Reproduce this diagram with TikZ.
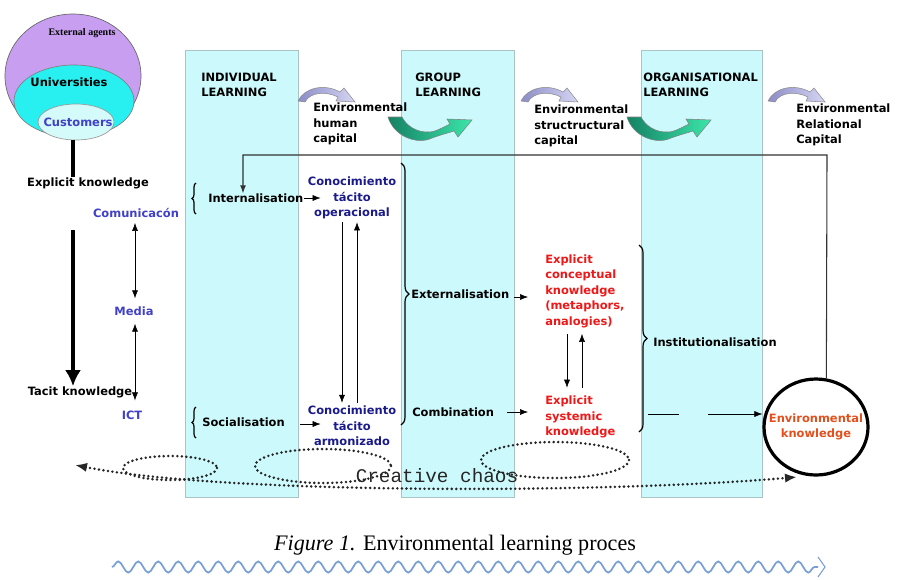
\documentclass[tikz,border=0pt]{standalone}
\usepackage{fontspec}
\setmainfont{DejaVu Sans}
\newfontfamily\serifcap{Liberation Serif}
\newfontfamily\monochaos{Liberation Mono}
\usetikzlibrary{calc,arrows.meta,shapes.geometric,decorations.pathreplacing,decorations.pathmorphing}

\definecolor{colcyan}{RGB}{204,250,252}
\definecolor{coledge}{RGB}{170,196,198}
\definecolor{agentviolet}{RGB}{200,158,240}
\definecolor{unicyan}{RGB}{40,240,240}
\definecolor{custcyan}{RGB}{212,250,250}
\definecolor{medblue}{RGB}{64,64,200}
\definecolor{navyblue}{RGB}{26,26,140}
\definecolor{kred}{RGB}{238,24,24}
\definecolor{envorange}{RGB}{226,80,30}
\definecolor{lavlight}{RGB}{214,214,244}
\definecolor{lavdark}{RGB}{140,140,200}
\definecolor{greendark}{RGB}{20,130,100}
\definecolor{greenlight}{RGB}{60,230,170}
\definecolor{wavyblue}{RGB}{120,160,215}

\tikzset{
  column/.style={fill=colcyan, draw=coledge, line width=0.5pt},
  lbl/.style={font=\bfseries\fontsize{8.6}{11.6}\selectfont, inner sep=0pt, align=left},
  brc/.style={decorate, decoration={brace, amplitude=#1}, line width=0.9pt},
  lavarrow/.style={left color=lavdark, right color=lavlight, draw=black!45, line width=0.4pt},
  greenarrow/.style={left color=greendark, right color=greenlight, draw=black!50, line width=0.4pt},
  chaos/.style={line width=2.1pt, dash pattern=on 0pt off 3.4pt, line cap=round, draw=black!85},
  wavyline/.style={draw=wavyblue, line width=1.3pt, decorate, decoration={snake, segment length=15pt, amplitude=4.2pt}}
}

\begin{document}
\begin{tikzpicture}[x=0.75pt,y=-0.75pt,>={Latex[length=6pt,width=4.5pt]}]
  \useasboundingbox (0,0) rectangle (898,579);
  % learning columns
  \draw[column] (185,50) rectangle (298,497);
  \draw[column] (401,50) rectangle (514,497);
  \draw[column] (641,50) rectangle (762,497);

  % external agents
  \draw[fill=agentviolet, draw=black!60, line width=0.5pt] (73,76) ellipse [x radius=68, y radius=62];
  \draw[fill=unicyan, draw=black!50, line width=0.5pt] (74,101) ellipse [x radius=60, y radius=36];
  \draw[fill=custcyan, draw=black!40, line width=0.5pt] (76,122) ellipse [x radius=38, y radius=18];
  \node[inner sep=0pt, font=\serifcap\bfseries\fontsize{7.5}{9}\selectfont] (agents) at (82,33) {External agents};
  \node[lbl] (univ) at (69,82) {Universities};
  \node[lbl, text=medblue] (cust) at (78,122) {Customers};
  \coordinate (custbot) at (73,140);

  \node[lbl] (expk) at (88,183) {Explicit knowledge};
  \node[lbl] (tack) at (80,392) {Tacit knowledge};
  \coordinate (kstart) at (73,230);
  \draw[line width=3pt] (custbot) -- (custbot |- expk.north);
  \draw[line width=3pt, -{Latex[length=12pt,width=12pt]}] (kstart) -- (kstart |- tack.north);

  \node[lbl, text=medblue] (comm) at (136,213) {Comunicacón};
  \node[lbl, text=medblue] (media) at (134,311) {Media};
  \node[lbl, text=medblue] (ict) at (132,415) {ICT};
  \draw[<->] ($(comm.south)+(-1,5)$) -- ($(media.north)+(1,-8)$);
  \draw[<->] ($(media.south)+(1,8)$) -- ($(ict.north)+(3,-10)$);

  % headings
  \node[lbl, anchor=west] (indl) at (201,85) {INDIVIDUAL\\LEARNING};
  \node[lbl, anchor=west] (grpl) at (415,85) {GROUP\\LEARNING};
  \node[lbl, anchor=west] (orgl) at (643,85) {ORGANISATIONAL\\LEARNING};

  % capital arrows
  \foreach \x in {298,521,768}
    \draw[lavarrow, shift={(\x,86)}] (0,15) .. controls (6,2) and (26,-3) .. (42,6)
      -- (46,2) -- (57,16) -- (38,15) -- (40,11) .. controls (28,5) and (12,6) .. (7,16) -- cycle;
  \foreach \x in {388,627}
    \draw[greenarrow, shift={(\x,117)}] (0,0) .. controls (6,20) and (30,28) .. (44,21)
      .. controls (52,18) and (60,16) .. (66,14) -- (70,20) -- (84,3) -- (59,2) -- (62,7)
      .. controls (52,12) and (46,15) .. (42,15) .. controls (28,16) and (18,8) .. (14,0) -- cycle;
  \node[lbl, anchor=west] (humc) at (313,124) {Environmental\\human\\capital};
  \node[lbl, anchor=west] (strc) at (534,126) {Environmental\\structructural\\capital};
  \node[lbl, anchor=west] (relc) at (796,125) {Environmental\\Relational\\Capital};

  % individual learning
  \node[lbl, anchor=west] (intl) at (208,198) {Internalisation};
  \node[lbl, anchor=west] (socl) at (202,422) {Socialisation};
  \draw[brc=3pt] (196,214) -- (196,183);
  \draw[brc=3pt] (196,438) -- (196,407);
  \node[lbl, align=center, text=navyblue] (conop) at (352,198) {Conocimiento\\tácito\\operacional};
  \node[lbl, align=center, text=navyblue] (conarm) at (352,426) {Conocimiento\\tácito\\armonizado};
  \draw[->] (intl.east) -- ($(conop.west |- intl.east)+(13,0)$);
  \draw[->] ($(socl.east)+(15,2)$) -- ($(conarm.west |- socl.east)+(13,2)$);
  \draw[->] ($(conop.south)+(-10,3)$) -- ($(conarm.north)+(-10,-3)$);
  \draw[->] ($(conarm.north)+(5,-3)$) -- ($(conop.south)+(5,3)$);

  % group learning
  \draw[brc=6pt] (401,163) -- (401,425);
  \node[lbl, anchor=west] (extn) at (411,294) {Externalisation};
  \node[lbl, anchor=west] (comb) at (412,412) {Combination};
  \node[lbl, anchor=west, text=kred] (econ) at (545,291) {Explicit\\conceptual\\knowledge\\(metaphors,\\analogies)};
  \node[lbl, anchor=west, text=kred] (esys) at (545,417) {Explicit\\systemic\\knowledge};
  \draw[->] ($(extn.east)+(5,3)$) -- ($(econ.west |- extn.east)+(-17,3)$);
  \draw[->] ($(comb.east)+(13,0)$) -- ($(esys.west |- comb.east)+(-17,0)$);
  \draw[->] ($(econ.south west)+(22,6)$) -- ($(esys.north west)+(22,-8)$);
  \draw[->] ($(esys.north west)+(37,-8)$) -- ($(econ.south west)+(37,6)$);

  % organisational learning
  \draw[brc=6pt] (639,245) -- (639,432);
  \node[lbl, anchor=west] (inst) at (653,342) {Institutionalisation};
  \node[lbl, ellipse, draw, line width=2.4pt, minimum width=78pt, minimum height=72pt, inner xsep=-14pt, inner ysep=0pt,
    align=center, text=envorange] (envk) at (816,427) {Environmental\\knowledge};
  \coordinate (insta) at (648,414);
  \coordinate (instb) at (679,414);
  \coordinate (instc) at (708,414);
  \draw (insta) -- (instb);
  \draw[->] (instc) -- (envk.west |- instc);

  % feedback to internalisation
  \coordinate (fbtop) at (827,155);
  \coordinate (fbleft) at (243,155);
  \draw[black!80, line width=0.8pt, ->] (envk.78) -- (fbtop) -- (fbleft) -- (fbleft |- intl.north);

  % creative chaos
  \draw[chaos] (170,468) ellipse [x radius=47, y radius=12];
  \draw[chaos] (323,466) ellipse [x radius=68, y radius=17];
  \draw[chaos] (555,460) ellipse [x radius=74, y radius=18];
  \coordinate (chaosl) at (75,465);
  \coordinate (chaosr) at (797,477);
  \draw[chaos, {Latex[length=9pt,width=7pt]}-{Latex[length=9pt,width=7pt]}]
    (chaosl) .. controls (220,494) and (600,494) .. (chaosr);
  \node[inner sep=1pt, text=black!85, font=\monochaos\fontsize{14.5}{16}\selectfont] (cchaos) at (437,476) {Creative chaos};

  % caption
  \node[inner sep=0pt, font=\serifcap\fontsize{16.6}{19}\selectfont] (caption) at (455,545) {\textit{Figure 1.} Environmental learning proces};
  \draw[wavyline] (112,567) -- (818,567);
  \draw[wavyblue, line width=0.8pt] (818,557) -- (825,567) -- (818,577);
\end{tikzpicture}
\end{document}
